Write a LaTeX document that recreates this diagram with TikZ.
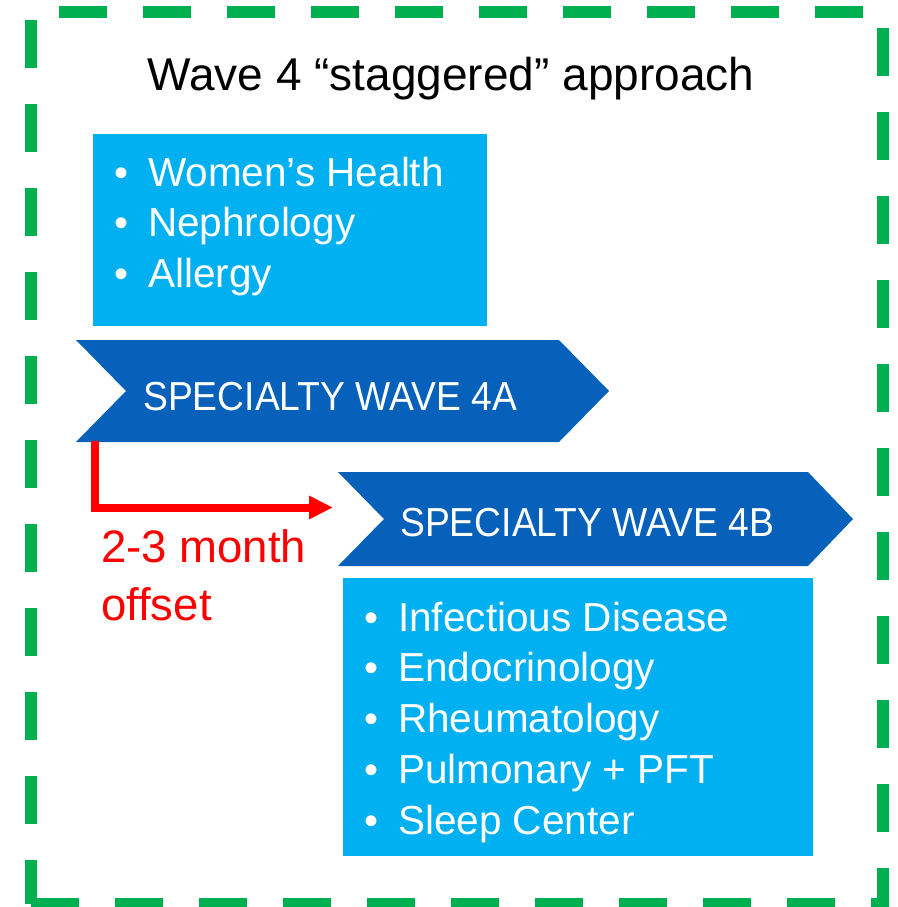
\documentclass[tikz,border=0pt]{standalone}
\usepackage{fontspec}
\usepackage{graphicx}
\setmainfont{Liberation Sans}
\usetikzlibrary{arrows.meta}
\definecolor{dgreen}{HTML}{00B050}
\definecolor{lblue}{HTML}{00B0F0}
\definecolor{dblue}{HTML}{0760B9}
\definecolor{offred}{HTML}{FF0000}
\begin{document}
\begin{tikzpicture}[x=1pt,y=-1pt,
  border/.style={draw=dgreen, line width=12pt, dash pattern=on 48pt off 36pt},
  listbox/.style={fill=lblue},
  chevshape/.style={fill=dblue},
  listtxt/.style={anchor=base west, text=white, inner sep=0pt, font=\fontsize{40.5}{48}\selectfont},
  bul/.style={anchor=base, text=white, inner sep=0pt, font=\fontsize{40}{48}\selectfont},
  chevtxt/.style={anchor=base west, text=white, inner sep=0pt, font=\fontsize{40.5}{48}\selectfont},
  redtxt/.style={anchor=base west, text=offred, inner sep=0pt, font=\fontsize{45.5}{54}\selectfont},
  titletxt/.style={anchor=base, text=black, inner sep=0pt, font=\fontsize{46}{55}\selectfont},
  offarrow/.style={draw=offred, line width=8pt, line join=miter, -{Triangle[length=24pt,width=22pt]}}
]
\useasboundingbox (0,0) rectangle (897,907);
\clip (0,0) rectangle (897,907);

% dashed green frame
\draw[border, dash phase=56pt] (31,12) -- (883,12) -- (883,904) -- (31,904);
\draw[border, dash phase=76pt] (31,12) -- (31,904);

% title
\node[titletxt] (title) at (451,90) {Wave 4 “staggered” approach};

% top list box
\fill[listbox] (93,134) rectangle (487,326);
\node[bul] (b1) at (121,186) {•};
\node[listtxt] (t1) at (148,186) {Women’s Health};
\node[bul] (b2) at (121,236.5) {•};
\node[listtxt] (t2) at (148,236.5) {Nephrology};
\node[bul] (b3) at (121,287) {•};
\node[listtxt] (t3) at (148,287) {Allergy};

% chevron 4A
\fill[chevshape] (76,340) -- (559,340) -- (609,391) -- (559,442) -- (76,442) -- (126,391) -- cycle;
\node[chevtxt] (wa) at (143,410) {\scalebox{0.92}[1]{SPECIALTY WAVE 4A}};

% chevron 4B
\fill[chevshape] (338,472) -- (808,472) -- (853,519) -- (808,566) -- (338,566) -- (384,519) -- cycle;
\node[chevtxt] (wb) at (400,536) {\scalebox{0.92}[1]{SPECIALTY WAVE 4B}};

% offset arrow
\coordinate (rs) at (94.5,441);
\coordinate (re) at (333,507.5);
\draw[offarrow] (rs) |- (re);
\node[redtxt] (o1) at (101,562) {2-3 month};
\node[redtxt] (o2) at (101,620) {offset};

% bottom list box
\fill[listbox] (343,578) rectangle (813,856);
\node[bul] (c1) at (371,631) {•};
\node[listtxt] (u1) at (398,631) {Infectious Disease};
\node[bul] (c2) at (371,681.75) {•};
\node[listtxt] (u2) at (398,681.75) {Endocrinology};
\node[bul] (c3) at (371,732.5) {•};
\node[listtxt] (u3) at (398,732.5) {Rheumatology};
\node[bul] (c4) at (371,783.25) {•};
\node[listtxt] (u4) at (398,783.25) {Pulmonary + PFT};
\node[bul] (c5) at (371,834) {•};
\node[listtxt] (u5) at (398,834) {Sleep Center};
\end{tikzpicture}
\end{document}
